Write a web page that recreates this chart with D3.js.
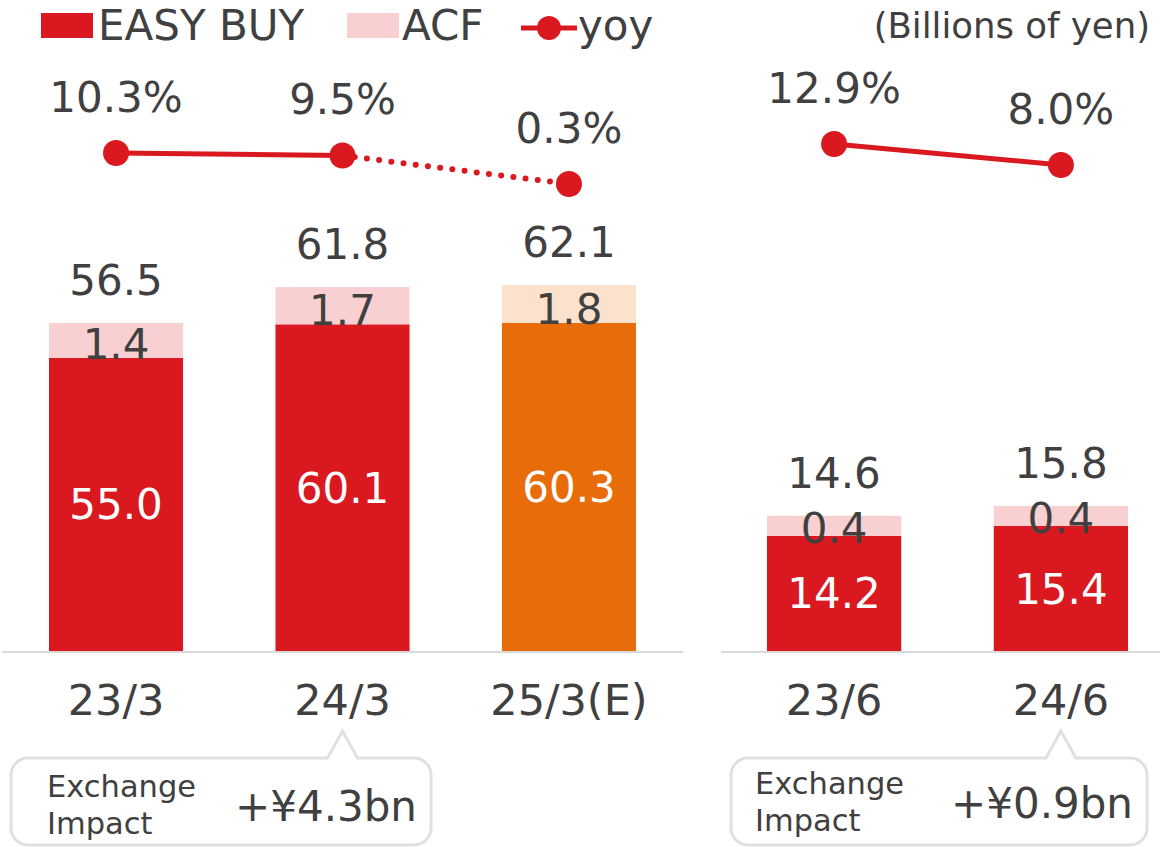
<!DOCTYPE html>
<html>
<head>
<meta charset="utf-8">
<script src="https://cdn.jsdelivr.net/npm/d3@7"></script>
<style>
  body { margin: 0; background: #fff; }
  svg { display: block; font-family: "DejaVu Sans", Verdana, sans-serif; }
</style>
</head>
<body>
<div id="chart"></div>
<script>
// Data

var annualCats = ["23/3", "24/3", "25/3(E)"],
	annualEasyBuy = [55.0, 60.1, 60.3],
	annualAcf = [1.4, 1.7, 1.8],
	annualTotal = [56.5, 61.8, 62.1],
	annualYoy = [10.3, 9.5, 0.3],
	annualEstimate = [false, false, true];

var quarterCats = ["23/6", "24/6"],
	quarterEasyBuy = [14.2, 15.4],
	quarterAcf = [0.4, 0.4],
	quarterTotal = [14.6, 15.8],
	quarterYoy = [12.9, 8.0];

var legendLabels = ["EASY BUY", "ACF", "yoy"];
var unitLabel = "(Billions of yen)";
var fxLabel = ["Exchange", "Impact"];
var fxAnnual = "+¥4.3bn",
	fxQuarter = "+¥0.9bn";


// Look

var W = 1160, H = 847,
	base = 651,
	textCol = "#404040",
	red = "#D9181F",
	pink = "#F9D0D2",
	orange = "#E86C0A",
	peach = "#FCE1CC",
	gridCol = "#D9D9D9";

var svg = d3.select("#chart").append("svg")
	.attr("width", W)
	.attr("height", H);


// Panels

function panel(opt){
	var g = svg.append("g");

	var x = d3.scaleBand().domain(opt.cats).range(opt.xr)
		.paddingInner(0.408).paddingOuter(opt.pad);

	var rows = opt.cats.map(function(c, i){
		return {
			cat: c,
			eb: opt.eb[i],
			acf: opt.acf[i],
			total: opt.total[i],
			yoy: opt.yoy[i],
			est: opt.est ? opt.est[i] : false
		}
	});

	// axis line
	g.append("line")
		.attr("x1", opt.xr[0]).attr("x2", opt.lineEnd)
		.attr("y1", base + 1).attr("y2", base + 1)
		.style("stroke", gridCol).style("stroke-width", 2);

	var bars = g.selectAll(".bar").data(rows).enter().append("g").attr("class", "bar");

	bars.append("rect")
		.attr("x", function(d){ return x(d.cat) })
		.attr("width", x.bandwidth())
		.attr("y", function(d){ return opt.y(d.eb) })
		.attr("height", function(d){ return base - opt.y(d.eb) })
		.style("fill", function(d){ return d.est ? orange : red });

	bars.append("rect")
		.attr("x", function(d){ return x(d.cat) })
		.attr("width", x.bandwidth())
		.attr("y", function(d){ return opt.y(d.eb) - opt.acfH(d.acf) })
		.attr("height", function(d){ return opt.acfH(d.acf) })
		.style("fill", function(d){ return d.est ? peach : pink });

	// acf labels
	bars.append("text")
		.attr("x", function(d){ return x(d.cat) + x.bandwidth()/2 })
		.attr("y", function(d){ return opt.y(d.eb) + opt.acfOff })
		.attr("text-anchor", "middle")
		.style("font-size", "42px").style("fill", textCol)
		.text(function(d){ return d3.format(".1f")(d.acf) });

	// easy buy labels
	bars.append("text")
		.attr("x", function(d){ return x(d.cat) + x.bandwidth()/2 })
		.attr("y", function(d){ return (opt.y(d.eb) + base)/2 + 15 })
		.attr("text-anchor", "middle")
		.style("font-size", "42px").style("fill", "#fff")
		.text(function(d){ return d3.format(".1f")(d.eb) });

	// totals
	bars.append("text")
		.attr("x", function(d){ return x(d.cat) + x.bandwidth()/2 })
		.attr("y", function(d){ return opt.y(d.eb) - opt.acfH(d.acf) - 28 })
		.attr("text-anchor", "middle")
		.style("font-size", "42px").style("fill", textCol)
		.text(function(d){ return d3.format(".1f")(d.total) });

	// category labels
	g.selectAll(".cat").data(rows).enter().append("text")
		.attr("class", "cat")
		.attr("x", function(d){ return x(d.cat) + x.bandwidth()/2 })
		.attr("y", 715)
		.attr("text-anchor", "middle")
		.style("font-size", "43px").style("fill", textCol)
		.text(function(d){ return d.cat });

	// yoy line
	var cx = function(d){ return x(d.cat) + x.bandwidth()/2 };
	for (var i = 0; i < rows.length - 1; i++) {
		var a = rows[i], b = rows[i+1];
		g.append("line")
			.attr("x1", cx(a)).attr("y1", opt.yy(a.yoy))
			.attr("x2", cx(b)).attr("y2", opt.yy(b.yoy))
			.style("stroke", red).style("stroke-width", b.est ? 6 : 5)
			.style("stroke-linecap", "round")
			.style("stroke-dasharray", b.est ? "0 12.3" : null);
	}

	g.selectAll(".dot").data(rows).enter().append("circle")
		.attr("class", "dot")
		.attr("cx", cx).attr("cy", function(d){ return opt.yy(d.yoy) })
		.attr("r", 13).style("fill", red);

	g.selectAll(".yoylab").data(rows).enter().append("text")
		.attr("class", "yoylab")
		.attr("x", cx).attr("y", function(d){ return opt.yy(d.yoy) - 41 })
		.attr("text-anchor", "middle")
		.style("font-size", "42px").style("fill", textCol)
		.text(function(d){ return d3.format(".1f")(d.yoy) + "%" });

	// callout box
	var bx0 = opt.box[0], bx1 = opt.box[1], by = 758, byb = 845, r = 17,
		px = cx(rows[opt.boxAt]), pw = 15, py = 731;
	var p = d3.path();
	p.moveTo(bx0 + r, by);
	p.lineTo(px - pw, by);
	p.lineTo(px, py);
	p.lineTo(px + pw, by);
	p.lineTo(bx1 - r, by);
	p.arcTo(bx1, by, bx1, by + r, r);
	p.lineTo(bx1, byb - r);
	p.arcTo(bx1, byb, bx1 - r, byb, r);
	p.lineTo(bx0 + r, byb);
	p.arcTo(bx0, byb, bx0, byb - r, r);
	p.lineTo(bx0, by + r);
	p.arcTo(bx0, by, bx0 + r, by, r);
	p.closePath();
	g.append("path").attr("d", p.toString())
		.style("fill", "#fff").style("stroke", "#E0E0E0").style("stroke-width", 3);

	g.append("text")
		.attr("x", bx0 + opt.fxPad).attr("y", opt.fxY)
		.style("font-size", "30.5px").style("fill", textCol)
		.selectAll("tspan").data(fxLabel).enter().append("tspan")
		.attr("x", bx0 + opt.fxPad).attr("dy", function(d, i){ return i ? 37 : 0 })
		.text(function(d){ return d });

	g.append("text")
		.attr("x", bx1 - 14).attr("y", opt.fxY + 24)
		.attr("text-anchor", "end")
		.style("font-size", "42px").style("fill", textCol)
		.text(opt.fx);
}

panel({
	cats: annualCats, eb: annualEasyBuy, acf: annualAcf, total: annualTotal,
	yoy: annualYoy, est: annualEstimate,
	xr: [2, 683], pad: 0.2075, lineEnd: 683,
	y: d3.scaleLinear().domain([10.6, 60.3]).range([base, 323]),
	acfH: d3.scaleLinear().domain([0, 1.8]).range([24, 38]),
	acfOff: 1,
	yy: d3.scaleLinear().domain([0.3, 10.3]).range([184, 153]),
	box: [11, 431], boxAt: 1, fxY: 797, fxPad: 36, fx: fxAnnual
});

panel({
	cats: quarterCats, eb: quarterEasyBuy, acf: quarterAcf, total: quarterTotal,
	yoy: quarterYoy,
	xr: [721, 1174], pad: 0.2026, lineEnd: 1160,
	y: d3.scaleLinear().domain([0, 15.4]).range([base, 526]),
	acfH: d3.scaleLinear().domain([0, 0.4]).range([0, 20]),
	acfOff: 7,
	yy: d3.scaleLinear().domain([8.0, 12.9]).range([165, 144]),
	box: [731, 1147], boxAt: 1, fxY: 794, fxPad: 24, fx: fxQuarter
});


// Legend

var lg = svg.append("g");
lg.append("rect").attr("x", 41).attr("y", 13).attr("width", 52).attr("height", 25).style("fill", red);
lg.append("text").attr("x", 98).attr("y", 40).text(legendLabels[0]);
lg.append("rect").attr("x", 347).attr("y", 13).attr("width", 52).attr("height", 25).style("fill", pink);
lg.append("text").attr("x", 402).attr("y", 40).text(legendLabels[1]);
lg.append("line").attr("x1", 521).attr("x2", 577).attr("y1", 28).attr("y2", 28)
	.style("stroke", red).style("stroke-width", 5);
lg.append("circle").attr("cx", 549).attr("cy", 28).attr("r", 12).style("fill", red);
lg.append("text").attr("x", 578).attr("y", 40).text(legendLabels[2]);
lg.selectAll("text").style("font-size", "42px").style("fill", textCol);

svg.append("text")
	.attr("x", 1150).attr("y", 38)
	.attr("text-anchor", "end")
	.style("font-size", "35.5px").style("fill", textCol)
	.text(unitLabel);
</script>
</body>
</html>
